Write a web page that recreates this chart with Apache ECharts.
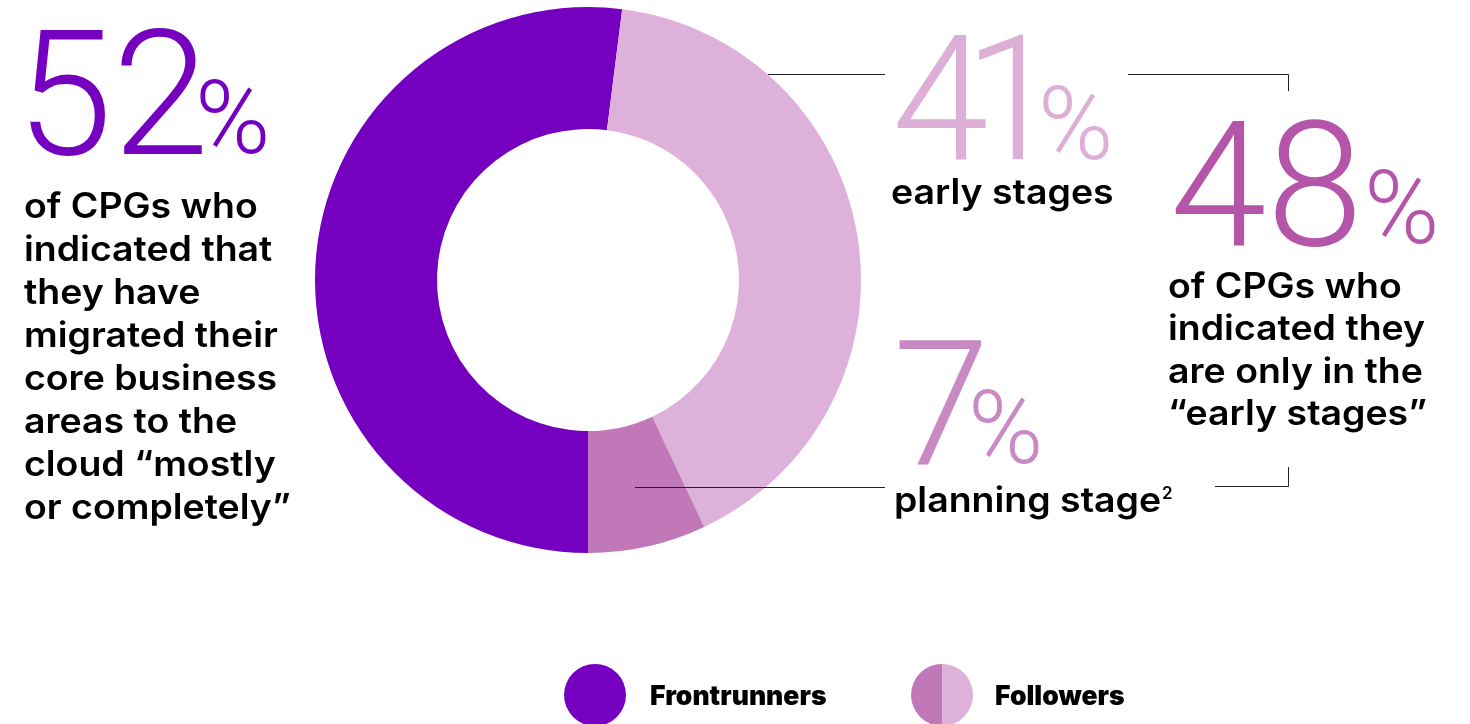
<!DOCTYPE html>
<html>
<head>
<meta charset="utf-8">
<script src="https://cdn.jsdelivr.net/npm/echarts@6/dist/echarts.min.js"></script>
<style>
html,body{margin:0;padding:0;background:#fff;}
#chart{width:1470px;height:724px;}
</style>
</head>
<body>
<div id="chart"></div>
<script>
// ---- data ----
const categories = ['Frontrunners', 'Early stages', 'Planning stage'];
const values = [52, 41, 7];
const followersTotal = 48;
const sliceColors = ['#7500C0', '#DDB1D9', '#C178B8'];
const legendLabels = ['Frontrunners', 'Followers'];
const leftText = ['of CPGs who', 'indicated that', 'they have', 'migrated their', 'core business', 'areas to the', 'cloud \u201Cmostly', 'or completely\u201D'];
const rightText = ['of CPGs who', 'indicated they', 'are only in the', '\u201Cearly stages\u201D'];
const earlyLabel = 'early stages';
const planningLabel = 'planning stage';
const footnoteMark = '2';

const chart = echarts.init(document.getElementById('chart'), null, {renderer: 'canvas'});

const BIG = 'Roboto';
const BODY = 'Inter';
const BODY_FONT = '600 35px ' + BODY;
const BODY_SCALE = 1.07;
const measureCtx = document.createElement('canvas').getContext('2d');
function textWidth(t, font) { measureCtx.font = font; return measureCtx.measureText(t).width; }

function bigNum(x, y, txt, color, size) {
  return {type: 'text', x: x, y: y, silent: true, z: 10,
    style: {text: txt, fill: color, font: '300 ' + size + 'px ' + BIG, verticalAlign: 'middle', align: 'left'}};
}
// draws a number digit by digit at the given x positions (proportional spacing like the original)
function bigDigits(xs, y, txt, color, size) {
  return txt.split('').map((ch, i) => bigNum(xs[i], y, ch, color, size));
}
function body(x, y, lines, lh) {
  return {type: 'text', x: x, y: y, scaleX: BODY_SCALE, silent: true, z: 10,
    style: {text: lines.join('\n'), fill: '#000', font: BODY_FONT, lineHeight: lh, verticalAlign: 'top', align: 'left'}};
}
function line(pts) {
  return {type: 'polyline', silent: true, z: 10, shape: {points: pts}, style: {stroke: '#222', lineWidth: 1, fill: null}};
}

const planX = 894;
const graphics = [
  // 52%
  bigNum(16, 110, String(values[0]), sliceColors[0], 174),
  bigNum(195, 127, '%', sliceColors[0], 102),
  body(24, 186, leftText, 43),
  // 41%
  ...bigDigits([892, 964], 115.5, String(values[1]), '#DDAFD7', 174),
  bigNum(1038, 133.5, '%', '#DDAFD7', 102),
  body(891, 172, [earlyLabel], 43),
  // 48%
  bigNum(1170, 201, String(followersTotal), '#B455AA', 174),
  bigNum(1364, 217.5, '%', '#B455AA', 102),
  body(1168, 266, rightText, 42.5),
  // 7%
  bigNum(893, 420.5, String(values[2]), '#C98AC4', 174),
  bigNum(968, 437.5, '%', '#C98AC4', 102),
  body(planX, 480, [planningLabel], 43),
  {type: 'text', x: planX + textWidth(planningLabel, BODY_FONT) * BODY_SCALE + 1, y: 494, silent: true, z: 10,
   style: {text: footnoteMark, fill: '#000', font: '600 17px ' + BODY, verticalAlign: 'middle', align: 'left'}},
  // connector lines
  line([[768, 74.5], [885, 74.5]]),
  line([[1128, 74.5], [1288.5, 74.5], [1288.5, 91]]),
  line([[635, 487.5], [885, 487.5]]),
  line([[1215, 486.5], [1288.5, 486.5], [1288.5, 467]]),
  // legend
  {type: 'circle', silent: true, z: 10, shape: {cx: 595, cy: 695, r: 31}, style: {fill: sliceColors[0]}},
  {type: 'text', x: 650, y: 697, silent: true, z: 10, style: {text: legendLabels[0], fill: '#000', font: '900 26.5px Inter', verticalAlign: 'middle'}},
  {type: 'sector', silent: true, z: 10, shape: {cx: 942, cy: 695, r: 31, startAngle: Math.PI / 2, endAngle: Math.PI * 1.5, clockwise: true}, style: {fill: sliceColors[2]}},
  {type: 'sector', silent: true, z: 10, shape: {cx: 942, cy: 695, r: 31, startAngle: -Math.PI / 2, endAngle: Math.PI / 2, clockwise: true}, style: {fill: sliceColors[1]}},
  {type: 'text', x: 995, y: 697, silent: true, z: 10, style: {text: legendLabels[1], fill: '#000', font: '900 26.5px Inter', verticalAlign: 'middle'}}
];

chart.setOption({
  animation: false,
  backgroundColor: '#ffffff',
  series: [{
    type: 'pie',
    z: 2,
    center: [588, 280],
    radius: [151, 273],
    startAngle: -90,
    clockwise: true,
    silent: true,
    label: {show: false},
    labelLine: {show: false},
    itemStyle: {borderWidth: 0},
    data: categories.map((c, i) => ({name: c, value: values[i], itemStyle: {color: sliceColors[i]}}))
  }],
  graphic: graphics
});
</script>
</body>
</html>
